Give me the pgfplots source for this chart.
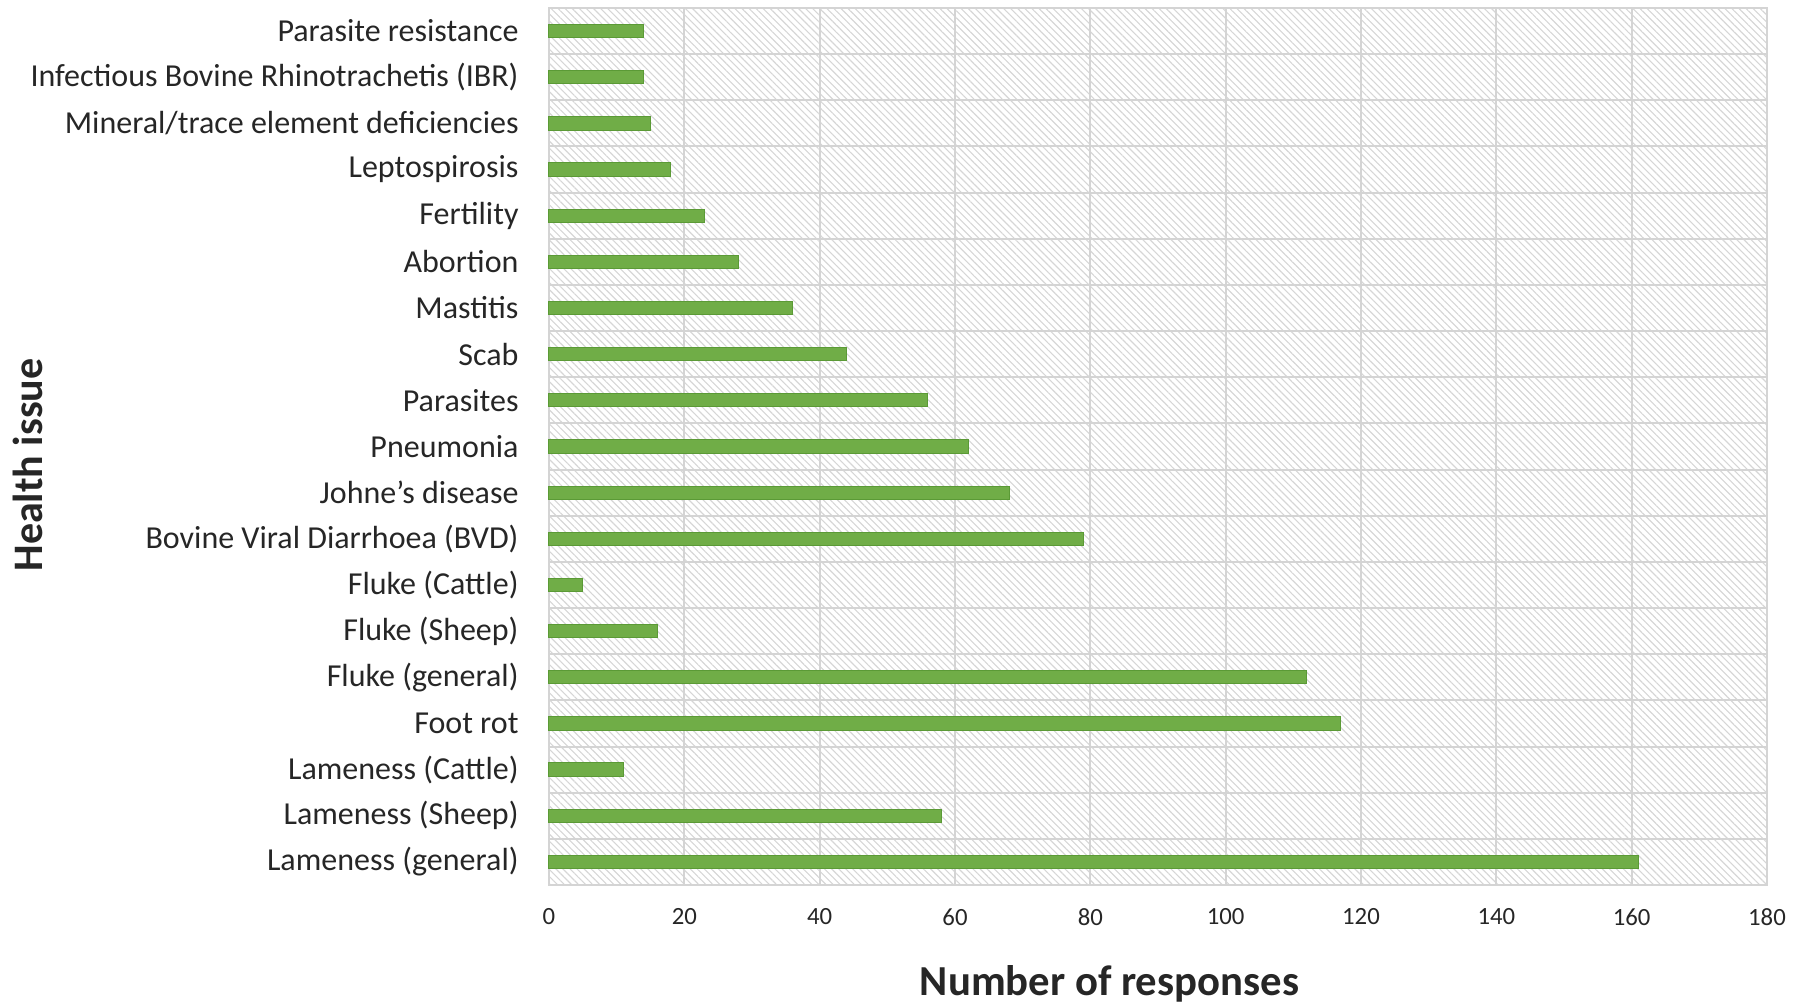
\documentclass[border=0pt]{standalone}
\usepackage{fontspec}
\setmainfont{Carlito}
\usepackage{pgfplots}
\pgfplotsset{compat=1.18}
\usetikzlibrary{patterns.meta}

\definecolor{barfill}{HTML}{70AD47}
\definecolor{baredge}{HTML}{5B9A36}
\definecolor{gridgray}{HTML}{D4D4D4}
\definecolor{txt}{HTML}{262626}

\begin{document}
\begin{tikzpicture}
\begin{axis}[
  at={(0,0)}, anchor=south west,
  scale only axis, width=487.2pt, height=350.8pt,
  xbar, bar width=5.3pt,
  xmin=0, xmax=180, xtick={0,20,...,180},
  ymin=-0.5, ymax=18.5,
  ytick={0,...,18},
  yticklabels={Lameness (general), Lameness (Sheep), Lameness (Cattle), Foot rot,
    Fluke (general), Fluke (Sheep), Fluke (Cattle), Bovine Viral Diarrhoea (BVD),
    Johne’s disease, Pneumonia, Parasites, Scab, Mastitis, Abortion, Fertility,
    Leptospirosis, Mineral/trace element deficiencies,
    Infectious Bovine Rhinotrachetis (IBR), Parasite resistance},
  minor ytick={0.5,1.5,...,17.5},
  yminorgrids, xmajorgrids,
  grid style={gridgray, line width=0.8pt},
  minor grid style={gridgray, line width=0.8pt},
  axis line style={gridgray, line width=0.8pt},
  major tick length=0pt, minor tick length=0pt,
  tick style={draw=none},
  axis background/.style={pattern={Lines[angle=-45,distance=2pt,line width=0.45pt]}, pattern color=gray!32},
  yticklabel style={font=\fontsize{12.8}{15}\selectfont, text=txt, inner sep=0pt, anchor=east, xshift=-12pt},
  xticklabel style={font=\fontsize{9.9}{12}\selectfont, text=txt, inner sep=0pt, anchor=north, yshift=-9.2pt},
  /pgf/number format/assume math mode=true,
  clip=false,
]
\addplot[fill=barfill, draw=baredge, line width=0.4pt] coordinates {
  (161,0) (58,1) (11,2) (117,3) (112,4) (16,5) (5,6) (79,7) (68,8) (62,9)
  (56,10) (44,11) (36,12) (28,13) (23,14) (18,15) (15,16) (14,17) (14,18)
};
\end{axis}
\node[font=\bfseries\fontsize{17.1}{20}\selectfont, text=txt, anchor=base]
  at ([xshift=224.2pt, yshift=-44pt]current axis.south west) {Number of responses};
\node[font=\bfseries\fontsize{16.8}{20}\selectfont, text=txt, anchor=base, rotate=90]
  at ([xshift=-202.4pt, yshift=168pt]current axis.south west) {Health issue};
\pgfresetboundingbox
\path[use as bounding box] ([xshift=-219.6pt,yshift=-48.4pt]current axis.south west)
  rectangle ([xshift=13.2pt,yshift=3.2pt]current axis.north east);
\end{tikzpicture}
\end{document}
